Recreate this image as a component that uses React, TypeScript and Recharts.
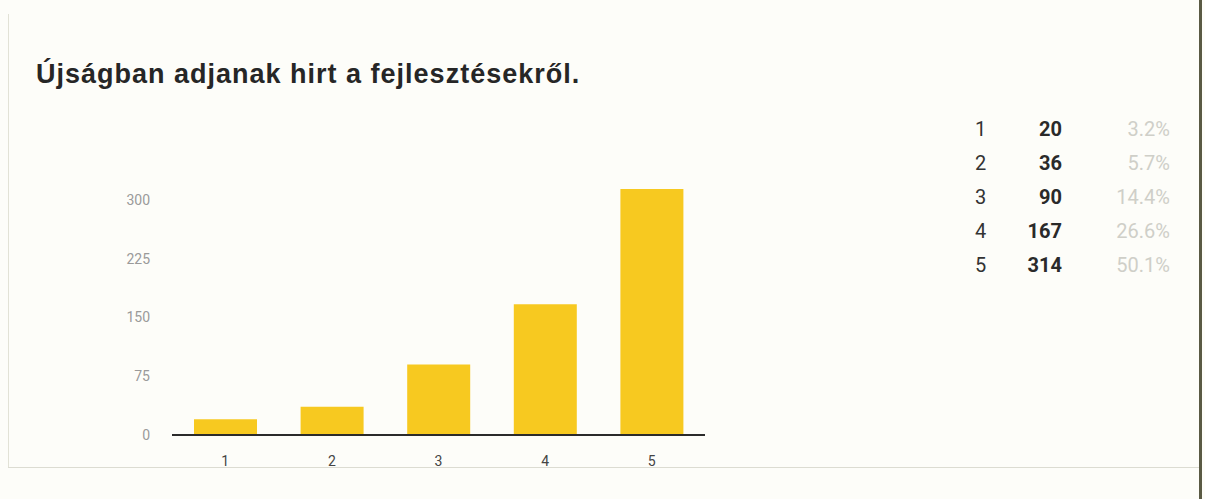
import { BarChart, Bar, XAxis, YAxis } from 'recharts';

const categories = ['1', '2', '3', '4', '5'];
const counts = [20, 36, 90, 167, 314];
const percents = ['3.2%', '5.7%', '14.4%', '26.6%', '50.1%'];
const yTicks = [0, 75, 150, 225, 300];
const title = 'Újságban adjanak hirt a fejlesztésekről.';

const chartData = categories.map((c, i) => ({ name: c, value: counts[i] }));

const narrow = '"Liberation Sans Narrow", "Roboto", "Liberation Sans", sans-serif';

export default function App() {
    return (
        <div
            style={{
                position: 'absolute',
                left: 0,
                top: 0,
                width: 1205,
                height: 499,
                background: '#fdfdf9',
                fontFamily: '"Liberation Sans", Arial, sans-serif',
                overflow: 'hidden',
            }}
        >
            {/* frame */}
            <div style={{ position: 'absolute', left: 8, top: 14, width: 1, height: 454, background: '#e2e2d6' }} />
            <div style={{ position: 'absolute', left: 8, top: 467, width: 1192, height: 1, background: '#dcdcd2' }} />
            <div style={{ position: 'absolute', left: 1199, top: 0, width: 3, height: 499, background: '#5a5a44' }} />

            <div
                style={{
                    position: 'absolute',
                    left: 36,
                    top: 59,
                    fontSize: 27,
                    letterSpacing: 1,
                    fontWeight: 'bold',
                    color: '#262626',
                    whiteSpace: 'nowrap',
                    lineHeight: '30px',
                }}
            >
                {title}
            </div>

            <div style={{ position: 'absolute', left: 100, top: 170 }}>
                <BarChart width={620} height={310} data={chartData} margin={{ top: 19, right: 15, left: 0, bottom: 0 }}>
                    <XAxis
                        dataKey="name"
                        height={45}
                        axisLine={{ stroke: '#2b2b2b', strokeWidth: 2 }}
                        tickLine={false}
                        tickMargin={15}
                        tick={{ fill: '#444', fontSize: 14, fontFamily: narrow }}
                    />
                    <YAxis
                        width={72}
                        domain={[0, 'dataMax']}
                        ticks={yTicks}
                        axisLine={false}
                        tickLine={false}
                        tickMargin={16}
                        tick={{ fill: '#9a9a9a', fontSize: 14, fontFamily: narrow }}
                    />
                    <Bar dataKey="value" fill="#f7c920" barSize={63} isAnimationActive={false} />
                </BarChart>
            </div>

            {categories.map((c, i) => (
                <div
                    key={c}
                    style={{
                        position: 'absolute',
                        left: 960,
                        top: 117 + i * 34,
                        height: 24,
                        width: 230,
                        fontFamily: narrow,
                        fontSize: 20,
                        lineHeight: '24px',
                    }}
                >
                    <span style={{ position: 'absolute', left: 15, color: '#333' }}>{c}</span>
                    <span style={{ position: 'absolute', right: 230 - 102, fontWeight: 'bold', color: '#2a2a2a' }}>
                        {counts[i]}
                    </span>
                    <span style={{ position: 'absolute', right: 230 - 210, color: '#cfcfc8' }}>{percents[i]}</span>
                </div>
            ))}
        </div>
    );
}
